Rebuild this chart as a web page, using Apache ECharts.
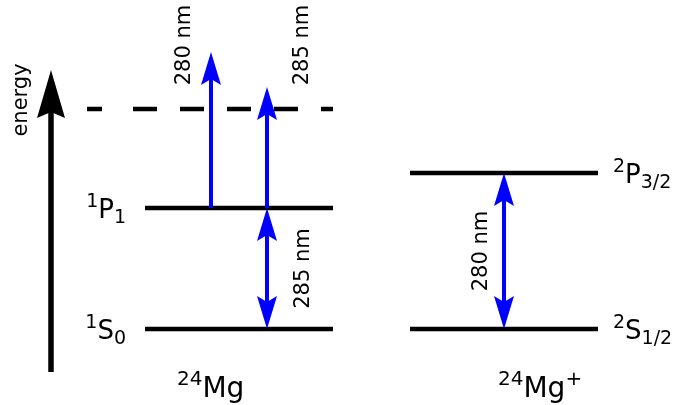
<!DOCTYPE html>
<html>
<head>
<meta charset="utf-8">
<script src="https://cdn.jsdelivr.net/npm/echarts@6/dist/echarts.min.js"></script>
<style>
  html, body { margin: 0; padding: 0; background: #fff; }
  #chart { width: 674px; height: 405px; }
</style>
</head>
<body>
<div id="chart"></div>
<script>
// Energy levels, in diagram units above each species' ground state
const levelTerm = [['1', 'S', '0'], ['1', 'P', '1'], ['2', 'S', '1/2'], ['2', 'P', '3/2']];
const levelEnergy = [0, 121, 0, 156];
const ionisationLimit = 220;

// Laser transitions: wavelength, start and end energy
const transLabel = ['280 nm', '285 nm', '285 nm', '280 nm'];
const transFrom = [121, 121, 0, 0];
const transTo = [277, 242, 121, 156];
const transBothEnds = [false, false, true, true];

// Species names: mass number, symbol, charge
const speciesName = [['24', 'Mg', ''], ['24', 'Mg', '+']];

// Energy axis extent and title
const axisRange = [-43, 259];
const axisTitle = 'energy';

// Layout (x in pixels of the 0..674 horizontal axis)
const layout = {
  levelX: [[145, 333], [145, 333], [410, 598], [410, 598]],
  termX: [126, 126, 613, 613],
  termSide: ['right', 'right', 'left', 'left'],
  limitX: [87, 333],
  transX: [211, 267, 267, 504],
  transLabelBase: [190, 308, 309, 487],
  transLabelE: [284, 284, null, null],
  speciesX: [177, 498],
  speciesE: -68,
  axisX: 51,
  axisTitleBase: 27,
  axisTitleE: 229
};

const FONT = '"DejaVu Sans", sans-serif';
const TERM = { main: 26, script: 19, up: 11, down: 5 };
const NAME = { main: 28, script: 20, up: 12, down: 5 };
const LABEL = 21, TITLE = 21;
const BLUE = '#0000ff';
const BLACK = '#000000';

const ctx2d = document.createElement('canvas').getContext('2d');
const fontOf = s => s + 'px ' + FONT;
function widthOf(t, s) {
  if (!t) return 0;
  ctx2d.font = fontOf(s);
  return ctx2d.measureText(t).width;
}
// distance from the alphabetic baseline up to the canvas "middle" baseline
function midShift(s) {
  ctx2d.font = fontOf(s);
  ctx2d.textBaseline = 'alphabetic';
  const a = ctx2d.measureText('H').actualBoundingBoxAscent;
  ctx2d.textBaseline = 'middle';
  const m = ctx2d.measureText('H').actualBoundingBoxAscent;
  ctx2d.textBaseline = 'alphabetic';
  const d = a - m;
  return isFinite(d) && d > 0 ? d : 0.346 * s;
}

function textAt(t, x, baseline, size, color) {
  return {
    type: 'text', x: x, y: baseline - midShift(size), silent: true,
    style: { text: t, font: fontOf(size), fill: color || BLACK, align: 'left', verticalAlign: 'middle' }
  };
}

// superscript + main + subscript (or trailing superscript)
function scriptText(sup, main, tail, tailIsSup, x, baseline, side, sz) {
  const wSup = widthOf(sup, sz.script), wMain = widthOf(main, sz.main), wTail = widthOf(tail, sz.script);
  const start = side === 'right' ? x - (wSup + wMain + wTail) : x;
  const out = [
    textAt(sup, start, baseline - sz.up, sz.script),
    textAt(main, start + wSup, baseline, sz.main)
  ];
  if (tail) out.push(textAt(tail, start + wSup + wMain, tailIsSup ? baseline - sz.up : baseline + sz.down, sz.script));
  return out;
}

function vArrow(x, y0, y1, both, color, lw, len, hw, notch) {
  const dir = Math.sign(y1 - y0);
  const head = (tip, d) => ({
    type: 'polygon', silent: true,
    shape: { points: [[x, tip], [x - hw, tip - d * len], [x, tip - d * (len - notch)], [x + hw, tip - d * len]] },
    style: { fill: color }
  });
  const s0 = both ? y0 + dir * (len - notch - 1) : y0;
  const s1 = y1 - dir * (len - notch - 1);
  const parts = [{
    type: 'line', silent: true,
    shape: { x1: x, y1: s0, x2: x, y2: s1 },
    style: { stroke: color, lineWidth: lw }
  }, head(y1, dir)];
  if (both) parts.push(head(y0, -dir));
  return parts;
}

const chart = echarts.init(document.getElementById('chart'), null, { renderer: 'canvas' });

chart.setOption({
  animation: false,
  backgroundColor: '#ffffff',
  grid: { left: 0, right: 0, top: 0, bottom: 0 },
  xAxis: { type: 'value', min: 0, max: 674, show: false },
  yAxis: { type: 'value', min: -76, max: 329, show: false },
  series: [
    {
      // energy axis arrow with its title
      type: 'custom', name: 'axis', silent: true,
      data: [[axisRange[0], axisRange[1]]],
      renderItem: (params, api) => {
        const p0 = api.coord([layout.axisX, api.value(0)]);
        const p1 = api.coord([layout.axisX, api.value(1)]);
        const t = api.coord([0, layout.axisTitleE]);
        const children = vArrow(p0[0], p0[1], p1[1], false, BLACK, 5.5, 48, 14, 6);
        children.push({
          type: 'text', silent: true,
          x: layout.axisTitleBase - midShift(TITLE), y: t[1], rotation: Math.PI / 2,
          style: { text: axisTitle, font: fontOf(TITLE), fill: BLACK, align: 'center', verticalAlign: 'middle' }
        });
        return { type: 'group', children };
      }
    },
    {
      // ionisation limit
      type: 'custom', name: 'limit', silent: true,
      data: [[0, ionisationLimit]],
      renderItem: (params, api) => {
        const e = api.value(1);
        const a = api.coord([layout.limitX[0], e]);
        const b = api.coord([layout.limitX[1], e]);
        return {
          type: 'line', silent: true,
          shape: { x1: a[0], y1: a[1], x2: b[0], y2: b[1] },
          style: { stroke: BLACK, lineWidth: 4.5, lineDash: [15, 31, 24, 23, 24, 23, 24, 23, 24, 23, 24, 23] }
        };
      }
    },
    {
      // energy levels with term symbols
      type: 'custom', name: 'levels', silent: true,
      data: levelEnergy.map((e, i) => [i, e]),
      renderItem: (params, api) => {
        const i = api.value(0), e = api.value(1);
        const a = api.coord([layout.levelX[i][0], e]);
        const b = api.coord([layout.levelX[i][1], e]);
        const term = levelTerm[i];
        const children = [{
          type: 'line', silent: true,
          shape: { x1: a[0], y1: a[1], x2: b[0], y2: b[1] },
          style: { stroke: BLACK, lineWidth: 4.5 }
        }].concat(scriptText(term[0], term[1], term[2], false, layout.termX[i], a[1] + 10, layout.termSide[i], TERM));
        return { type: 'group', children };
      }
    },
    {
      // laser transitions
      type: 'custom', name: 'transitions', silent: true,
      data: transFrom.map((f, i) => [i, f, transTo[i]]),
      renderItem: (params, api) => {
        const i = api.value(0), from = api.value(1), to = api.value(2);
        const x = layout.transX[i];
        const p0 = api.coord([x, from]);
        const p1 = api.coord([x, to]);
        const children = vArrow(p0[0], p0[1], p1[1], transBothEnds[i], BLUE, 4, 33, 10, 6);
        const labelE = layout.transLabelE[i] != null ? layout.transLabelE[i] : (from + to) / 2;
        const ly = api.coord([x, labelE])[1];
        children.push({
          type: 'text', silent: true,
          x: layout.transLabelBase[i] - midShift(LABEL), y: ly, rotation: Math.PI / 2,
          style: { text: transLabel[i], font: fontOf(LABEL), fill: BLACK, align: 'center', verticalAlign: 'middle' }
        });
        return { type: 'group', children };
      }
    },
    {
      // species names under each level scheme
      type: 'custom', name: 'species', silent: true,
      data: speciesName.map((s, i) => [i, layout.speciesE]),
      renderItem: (params, api) => {
        const i = api.value(0);
        const p = api.coord([layout.speciesX[i], api.value(1)]);
        const s = speciesName[i];
        return { type: 'group', children: scriptText(s[0], s[1], s[2], true, p[0], p[1], 'left', NAME) };
      }
    }
  ]
});
</script>
</body>
</html>
